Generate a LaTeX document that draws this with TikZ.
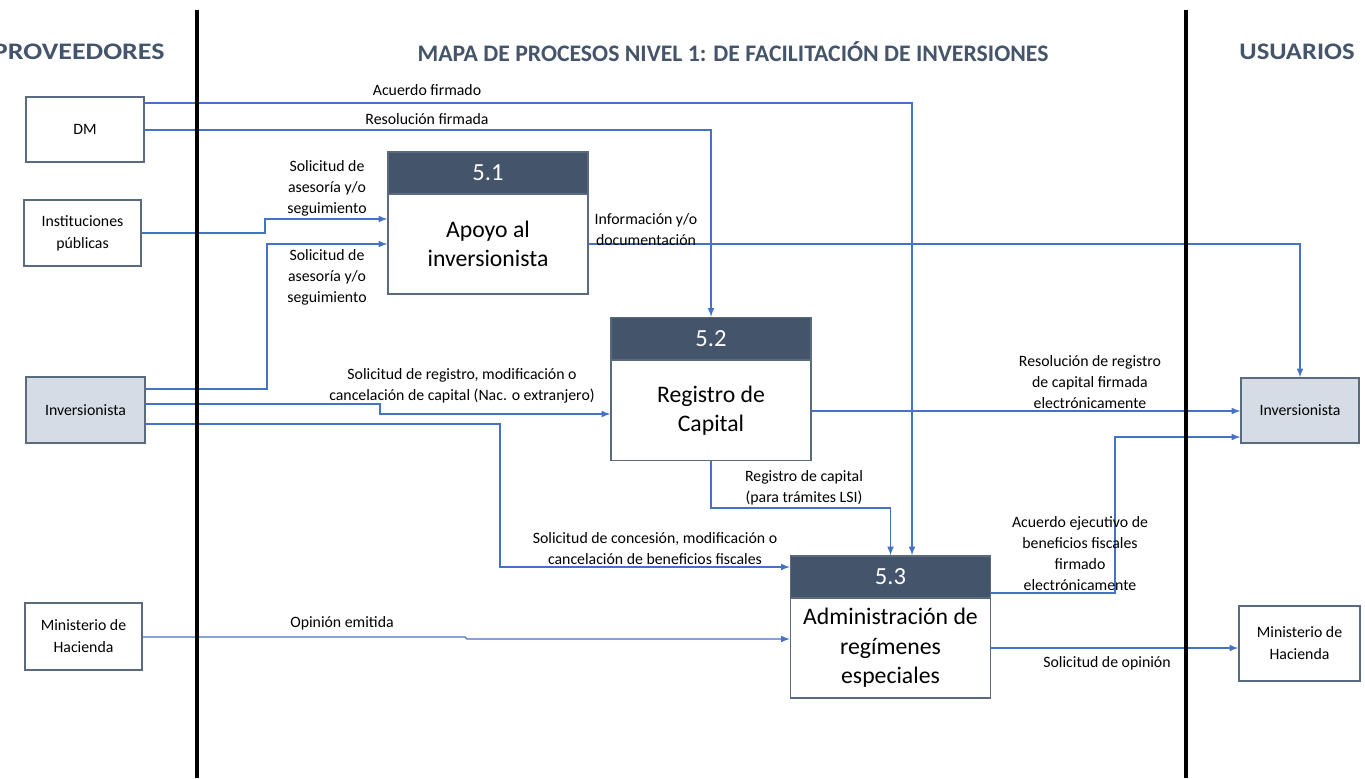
\documentclass[tikz,border=0pt]{standalone}
\usepackage{fontspec}
\setmainfont{Carlito}
\definecolor{flowblue}{HTML}{4472C4}
\definecolor{headblue}{HTML}{44546A}
\definecolor{extgray}{HTML}{D6DCE5}
\definecolor{boxline}{HTML}{5B6B7F}
\tikzset{
ext/.style={draw=boxline, line width=0.8pt, fill=white, align=center, inner sep=2pt, font=\fontsize{9}{12.5}\selectfont},
extfill/.style={ext, fill=extgray},
prochead/.style={draw=boxline, line width=0.8pt, fill=headblue, text=white, minimum width=4cm, minimum height=0.84cm, inner sep=0pt, font=\fontsize{14}{16}\selectfont},
procbody/.style={draw=boxline, line width=0.8pt, fill=white, minimum width=4cm, minimum height=2cm, align=center, inner sep=0pt, font=\fontsize{13.5}{16.7}\selectfont},
flow/.style={draw=flowblue, line width=0.7pt, -latex},
lbl/.style={align=center, inner sep=0pt, font=\fontsize{9}{12}\selectfont},
title/.style={inner sep=0pt, text=headblue, font=\fontsize{13.5}{16}\selectfont\bfseries},
lane/.style={line width=1.8pt}
}
\begin{document}
\begin{tikzpicture}
[x = {(0.02cm,0cm)},
y = {(0cm,-0.02cm)}]
\useasboundingbox (0,0) rectangle (1365,778);

\node[title, anchor=east, xscale=1.18] (prov) at (165,52) {PROVEEDORES};
\node[title] (mapa) at (733,52) {MAPA DE PROCESOS NIVEL 1: DE FACILITACIÓN DE INVERSIONES};
\node[title, xscale=1.12] (usu) at (1297,52) {USUARIOS};

\node[ext, minimum width=2.36cm, minimum height=1.3cm] (dm) at (85,129.5) {DM};
\node[ext, minimum width=2.34cm, minimum height=1.32cm] (inst) at (82.5,233) {Instituciones\\públicas};
\node[extfill, minimum width=2.38cm, minimum height=1.32cm] (invL) at (85.5,410) {Inversionista};
\node[ext, minimum width=2.34cm, minimum height=1.34cm] (minL) at (83.5,636.5) {Ministerio de\\Hacienda};
\node[extfill, minimum width=2.36cm, minimum height=1.3cm] (invR) at (1300,410.5) {Inversionista};
\node[ext, minimum width=2.42cm, minimum height=1.5cm] (minR) at (1299.5,643.5) {Ministerio de\\Hacienda};

\node[prochead] (p1h) at (488,173) {5.1};
\node[procbody] (p1) at (488,244) {Apoyo al\\inversionista};
\node[prochead] (p2h) at (711,338.5) {5.2};
\node[procbody] (p2) at (711,410.5) {Registro de\\Capital};
\node[prochead] (p3h) at (890.5,577) {5.3};
\node[procbody] (p3) at (890.5,648) {Administración de\\regímenes\\especiales};

\draw[flow] (dm.east |- 0,103) -| (p3h.north -| 912,0);
\draw[flow] (dm.east |- 0,130) -| (p2h.north);
\draw[flow] (inst.east) -| (265,219) -- (p1.west |- 0,219);
\draw[flow] (invL.east |- 0,389) -| (267,244) -- (p1.west |- 0,244);
\draw[flow] (invL.east |- 0,404) -| (380,414) -- (p2.west |- 0,414);
\draw[flow] (invL.east |- 0,424) -| (500,567) -- (p3h.west |- 0,567);
\draw[flow] (p1.east |- 0,244) -| (invR.north);
\draw[flow] (p2.east |- 0,411) -- (invR.west |- 0,411);
\draw[flow] (p2.south) |- (890.5,508) -- (p3h.north);
\draw[flow] (p3h.east |- 0,593) -| (1115,437) -- (invR.west |- 0,437);
\draw[flow] (minL.east |- 0,637) -- (465,637) -- (467,639) -- (p3.west |- 0,639);
\draw[flow] (p3.east |- 0,648) -- (minR.west |- 0,648);

\node[lbl] (l1) at (427,90) {Acuerdo firmado};
\node[lbl] (l2) at (427,119) {Resolución firmada};
\node[lbl] (l3) at (327,188.5) {Solicitud de\\asesoría y/o\\seguimiento};
\node[lbl] (l4) at (327,277.5) {Solicitud de\\asesoría y/o\\seguimiento};
\node[lbl] (l5) at (462,386) {Solicitud de registro, modificación o\\cancelación de capital (Nac. o extranjero)};
\node[lbl] (l6) at (655,548.5) {Solicitud de concesión, modificación o\\cancelación de beneficios fiscales};
\node[lbl] (l7) at (646,229.5) {Información y/o\\documentación};
\node[lbl] (l8) at (1090,382) {Resolución de registro\\de capital firmada\\electrónicamente};
\node[lbl] (l9) at (804,488) {Registro de capital\\(para trámites LSI)};
\node[lbl] (l10) at (1080,553.5) {Acuerdo ejecutivo de\\beneficios fiscales\\firmado\\electrónicamente};
\node[lbl] (l11) at (342,623) {Opinión emitida};
\node[lbl] (l12) at (1107,663) {Solicitud de opinión};

\draw[lane] (197,10) -- (197,778);
\draw[lane] (1186,10) -- (1186,778);
\end{tikzpicture}
\end{document}
